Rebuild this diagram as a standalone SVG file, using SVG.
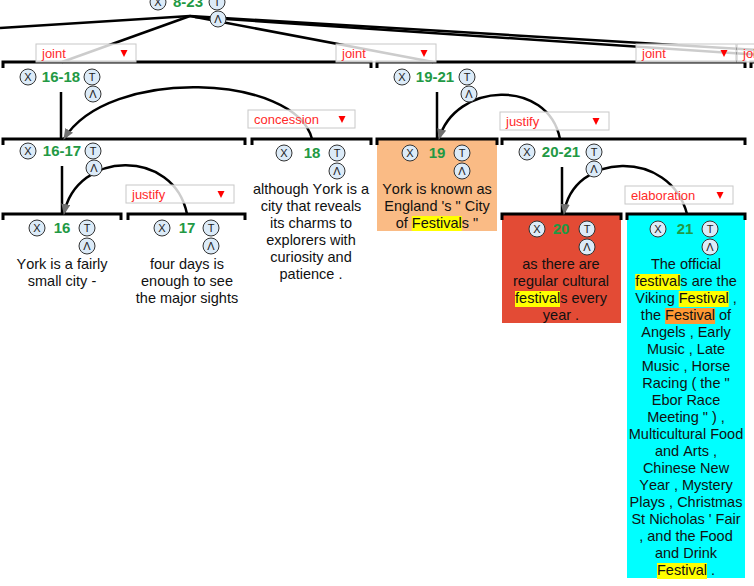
<svg xmlns="http://www.w3.org/2000/svg" width="754" height="586" viewBox="0 0 754 586">
<defs>
<style>
.br{fill:none;stroke:#000;stroke-width:3}
.ln{fill:none;stroke:#000;stroke-width:2.5}
.rel rect{fill:#fff;fill-opacity:0.8;stroke:#c8c8c8;stroke-width:1}
.rel text{font-family:"Liberation Sans",Arial,sans-serif;font-size:13px;fill:#ff2a2a}
.rel polygon{fill:#f00}
.b circle{fill:#dcebf8;stroke:#333;stroke-width:1}
.b text{font-family:"Liberation Sans",Arial,sans-serif;font-size:11px;fill:#222;text-anchor:middle}
.lbl{font-family:"Liberation Sans",Arial,sans-serif;font-size:15px;font-weight:bold;fill:#229944;text-anchor:middle}
.tx{font-family:"Liberation Sans",Arial,sans-serif;font-size:14.5px;fill:#111;text-anchor:middle;font-kerning:none}
</style>
<marker id="ah" markerUnits="userSpaceOnUse" markerWidth="12" markerHeight="10" refX="10" refY="4.5" orient="auto">
<path d="M0,0 L11,4.5 L0,9 z" fill="#707070"/>
</marker>
</defs>
<rect width="754" height="586" fill="#fff"/>

<!-- backgrounds -->
<rect x="377" y="139" width="120" height="92" fill="#fabb85"/>
<rect x="502" y="214" width="119" height="109" fill="#e34b35"/>
<rect x="627" y="214" width="118" height="364" fill="#00ffff"/>

<!-- brackets -->
<g id="brackets">
<path class="br" d="M3,68 V62 H371 V68"/>
<path class="br" d="M377,68 V62 H745 V68"/>
<path class="br" d="M751,68 V62 H800"/>
<path class="br" d="M3,145 V139 H245 V145"/>
<path class="br" d="M252,145 V139 H371 V145"/>
<path class="br" d="M377,145 V139 H497 V145"/>
<path class="br" d="M502,145 V139 H745 V145"/>
<path class="br" d="M3,220 V214 H121 V220"/>
<path class="br" d="M128,220 V214 H245 V220"/>
<path class="br" d="M502,220 V214 H621 V220"/>
<path class="br" d="M627,220 V214 H745 V220"/>
</g>

<!-- connectors -->
<g id="connectors">
<path class="ln" d="M190,16 L0,28"/>
<path class="ln" d="M190,16 L62,62"/>
<path class="ln" d="M190,16 L433,62"/>
<path class="ln" d="M190,16 L960,62"/>
<path class="ln" d="M195,17 L880,63"/>
<path class="ln" d="M61,92 V139"/>
<path class="ln" d="M62,166 V214"/>
<path class="ln" d="M437,92 V139"/>
<path class="ln" d="M562,167 V214"/>
<path class="ln" d="M312,139 C296,74 108,66 64,139" marker-end="url(#ah)"/>
<path class="ln" d="M187,214 C174,148 76,150 64,214" marker-end="url(#ah)"/>
<path class="ln" d="M560,139 C548,78 455,82 439,139" marker-end="url(#ah)"/>
<path class="ln" d="M687,214 C670,148 572,152 564,214" marker-end="url(#ah)"/>
</g>

<!-- relation labels -->
<g id="relations">
<g class="rel"><rect x="36" y="44" width="100" height="18"/><text x="42" y="58">joint</text><polygon points="120.5,50 127.5,50 124,57"/></g>
<g class="rel"><rect x="336" y="44" width="100" height="18"/><text x="342" y="58">joint</text><polygon points="420.5,50 427.5,50 424,57"/></g>
<g class="rel"><rect x="636" y="44" width="100" height="18"/><text x="642" y="58">joint</text><polygon points="720.5,50 727.5,50 724,57"/></g>
<g class="rel"><rect x="737" y="44" width="100" height="18"/><text x="743" y="58">joint</text></g>
<g class="rel"><rect x="248" y="110" width="107" height="18"/><text x="254" y="124">concession</text><polygon points="338.5,116 345.5,116 342,123"/></g>
<g class="rel"><rect x="126" y="185" width="108" height="18"/><text x="132" y="199">justify</text><polygon points="217.5,191 224.5,191 221,198"/></g>
<g class="rel"><rect x="500" y="112" width="109" height="18"/><text x="506" y="126">justify</text><polygon points="592.5,118 599.5,118 596,125"/></g>
<g class="rel"><rect x="625" y="186" width="108" height="18"/><text x="631" y="200">elaboration</text><polygon points="716.5,192 723.5,192 720,199"/></g>
</g>

<!-- nodes -->
<g id="n8-23">
<g class="b"><circle cx="158" cy="2" r="8"/><text x="158" y="6">X</text></g>
<text class="lbl" x="188" y="7">8-23</text>
<g class="b"><circle cx="217" cy="2" r="8"/><text x="217" y="6">T</text></g>
<g class="b"><circle cx="218" cy="19" r="8"/><text x="218" y="23">Λ</text></g>
</g>

<g id="n16-18">
<g class="b"><circle cx="28" cy="77" r="8"/><text x="28" y="81">X</text></g>
<text class="lbl" x="61" y="82">16-18</text>
<g class="b"><circle cx="92" cy="77" r="8"/><text x="92" y="81">T</text></g>
<g class="b"><circle cx="93" cy="94" r="8"/><text x="93" y="98">Λ</text></g>
</g>

<g id="n19-21">
<g class="b"><circle cx="402" cy="77" r="8"/><text x="402" y="81">X</text></g>
<text class="lbl" x="435" y="82">19-21</text>
<g class="b"><circle cx="467" cy="77" r="8"/><text x="467" y="81">T</text></g>
<g class="b"><circle cx="469" cy="94" r="8"/><text x="469" y="98">Λ</text></g>
</g>

<g id="n16-17">
<g class="b"><circle cx="28" cy="151" r="8"/><text x="28" y="155">X</text></g>
<text class="lbl" x="62" y="156">16-17</text>
<g class="b"><circle cx="93" cy="151" r="8"/><text x="93" y="155">T</text></g>
<g class="b"><circle cx="94" cy="168" r="8"/><text x="94" y="172">Λ</text></g>
</g>

<g id="n18">
<g class="b"><circle cx="284" cy="153" r="8"/><text x="284" y="157">X</text></g>
<text class="lbl" x="312" y="158">18</text>
<g class="b"><circle cx="337" cy="153" r="8"/><text x="337" y="157">T</text></g>
<g class="b"><circle cx="337" cy="171" r="8"/><text x="337" y="175">Λ</text></g>
<text class="tx" x="311" y="194">although York is a</text>
<text class="tx" x="311" y="211">city that reveals</text>
<text class="tx" x="311" y="228">its charms to</text>
<text class="tx" x="311" y="245">explorers with</text>
<text class="tx" x="311" y="262">curiosity and</text>
<text class="tx" x="311" y="279">patience .</text>
</g>

<g id="n19">
<g class="b"><circle cx="410" cy="153" r="8"/><text x="410" y="157">X</text></g>
<text class="lbl" x="437" y="158">19</text>
<g class="b"><circle cx="462" cy="153" r="8"/><text x="462" y="157">T</text></g>
<g class="b"><circle cx="462" cy="171" r="8"/><text x="462" y="175">Λ</text></g>
<rect x="411.8" y="216" width="50" height="15" fill="#ffff00"/>
<text class="tx" x="437" y="194">York is known as</text>
<text class="tx" x="437" y="211">England 's " City</text>
<text class="tx" x="437" y="228">of Festivals "</text>
</g>

<g id="n20-21">
<g class="b"><circle cx="527" cy="152" r="8"/><text x="527" y="156">X</text></g>
<text class="lbl" x="561" y="157">20-21</text>
<g class="b"><circle cx="594" cy="152" r="8"/><text x="594" y="156">T</text></g>
<g class="b"><circle cx="594" cy="169" r="8"/><text x="594" y="173">Λ</text></g>
</g>

<g id="n16">
<g class="b"><circle cx="37" cy="228" r="8"/><text x="37" y="232">X</text></g>
<text class="lbl" x="62" y="233">16</text>
<g class="b"><circle cx="87" cy="228" r="8"/><text x="87" y="232">T</text></g>
<g class="b"><circle cx="87" cy="246" r="8"/><text x="87" y="250">Λ</text></g>
<text class="tx" x="62" y="269">York is a fairly</text>
<text class="tx" x="62" y="286">small city -</text>
</g>

<g id="n17">
<g class="b"><circle cx="162" cy="228" r="8"/><text x="162" y="232">X</text></g>
<text class="lbl" x="187" y="233">17</text>
<g class="b"><circle cx="211" cy="228" r="8"/><text x="211" y="232">T</text></g>
<g class="b"><circle cx="211" cy="246" r="8"/><text x="211" y="250">Λ</text></g>
<text class="tx" x="187" y="269">four days is</text>
<text class="tx" x="187" y="286">enough to see</text>
<text class="tx" x="187" y="303">the major sights</text>
</g>

<g id="n20">
<g class="b"><circle cx="537" cy="229" r="8"/><text x="537" y="233">X</text></g>
<text class="lbl" x="561" y="234">20</text>
<g class="b"><circle cx="587" cy="229" r="8"/><text x="587" y="233">T</text></g>
<g class="b"><circle cx="587" cy="247" r="8"/><text x="587" y="251">Λ</text></g>
<rect x="515" y="291" width="45" height="16" fill="#ffff00"/>
<text class="tx" x="561" y="269">as there are</text>
<text class="tx" x="561" y="286">regular cultural</text>
<text class="tx" x="561" y="303">festivals every</text>
<text class="tx" x="561" y="320">year .</text>
</g>

<g id="n21">
<g class="b"><circle cx="658" cy="229" r="8"/><text x="658" y="233">X</text></g>
<text class="lbl" x="685" y="234">21</text>
<g class="b"><circle cx="710" cy="229" r="8"/><text x="710" y="233">T</text></g>
<g class="b"><circle cx="710" cy="247" r="8"/><text x="710" y="251">Λ</text></g>
<rect x="635.2" y="274" width="45.1" height="16" fill="#ffff00"/>
<rect x="678.7" y="291" width="50" height="16" fill="#ffff00"/>
<rect x="665.1" y="308" width="50" height="16" fill="#ff9933"/>
<rect x="657" y="563" width="50" height="16" fill="#ffff00"/>
<text class="tx" x="686" y="269">The official</text>
<text class="tx" x="686" y="286">festivals are the</text>
<text class="tx" x="686" y="303">Viking Festival ,</text>
<text class="tx" x="686" y="320">the Festival of</text>
<text class="tx" x="686" y="337">Angels , Early</text>
<text class="tx" x="686" y="354">Music , Late</text>
<text class="tx" x="686" y="371">Music , Horse</text>
<text class="tx" x="686" y="388">Racing ( the "</text>
<text class="tx" x="686" y="405">Ebor Race</text>
<text class="tx" x="686" y="422">Meeting " ) ,</text>
<text class="tx" x="686" y="439">Multicultural Food</text>
<text class="tx" x="686" y="456">and Arts ,</text>
<text class="tx" x="686" y="473">Chinese New</text>
<text class="tx" x="686" y="490">Year , Mystery</text>
<text class="tx" x="686" y="507">Plays , Christmas</text>
<text class="tx" x="686" y="524">St Nicholas ' Fair</text>
<text class="tx" x="686" y="541">, and the Food</text>
<text class="tx" x="686" y="558">and Drink</text>
<text class="tx" x="686" y="575">Festival .</text>
</g>
</svg>
